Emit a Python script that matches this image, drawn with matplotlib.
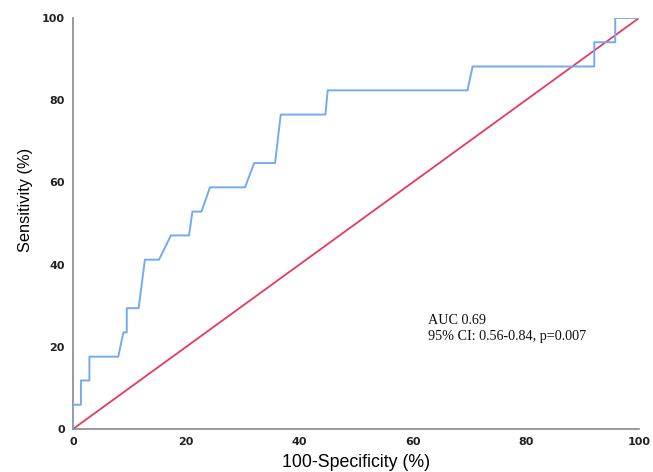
import matplotlib
matplotlib.use("Agg")
import matplotlib.pyplot as plt

# ROC curve points (100-Specificity %, Sensitivity %)
fpr = [0, 0, 1.4, 1.4, 2.9, 2.9, 8.0, 8.9, 9.5, 9.5, 11.6, 12.7, 15.2, 17.3, 20.5,
       21.1, 22.7, 24.2, 30.4, 32.0, 35.7, 36.7, 44.6, 45.0, 69.7, 70.6, 92.1, 92.1,
       95.8, 95.8, 100]
tpr = [0, 5.9, 5.9, 11.8, 11.8, 17.6, 17.6, 23.5, 23.5, 29.4, 29.4, 41.2, 41.2, 47.1, 47.1,
       52.9, 52.9, 58.8, 58.8, 64.7, 64.7, 76.5, 76.5, 82.4, 82.4, 88.2, 88.2, 94.1,
       94.1, 100, 100]
ref_x = [0, 100]
ref_y = [0, 100]
ticks = [0, 20, 40, 60, 80, 100]
annot_lines = ["AUC 0.69", "95% CI: 0.56-0.84, p=0.007"]

fig = plt.figure(figsize=(6.53, 4.72), dpi=100)
ax = fig.add_axes([73/653, 43/472, 566/653, 411/472])

ax.plot(fpr, tpr, color="#74aaf0", lw=1.4, zorder=3)
ax.plot(ref_x, ref_y, color="#e8395c", lw=1.3, zorder=2)

ax.set_xlim(0, 100)
ax.set_ylim(0, 100)
ax.set_xticks(ticks)
ax.set_yticks(ticks)
ax.tick_params(length=0, labelsize=8, colors="#222222", pad=6)
for lab in ax.get_xticklabels() + ax.get_yticklabels():
    lab.set_family("DejaVu Sans")
    lab.set_weight("bold")
for s in ["top", "right"]:
    ax.spines[s].set_visible(False)
for s in ["left", "bottom"]:
    ax.spines[s].set_color("#888888")
    ax.spines[s].set_linewidth(1.2)

ax.set_xlabel("100-Specificity (%)", family="Liberation Sans", fontsize=12.8, labelpad=5)
ax.set_ylabel("Sensitivity (%)", family="Liberation Sans", fontsize=11.8, labelpad=8)
ax.yaxis.set_label_coords(-0.071, 0.557)

ax.text(62.7, 24.5, "\n".join(annot_lines), family="Liberation Serif", fontsize=10.2,
        va="center", ha="left", linespacing=1.35, color="#111111")

fig.savefig("out.png", dpi=100)
